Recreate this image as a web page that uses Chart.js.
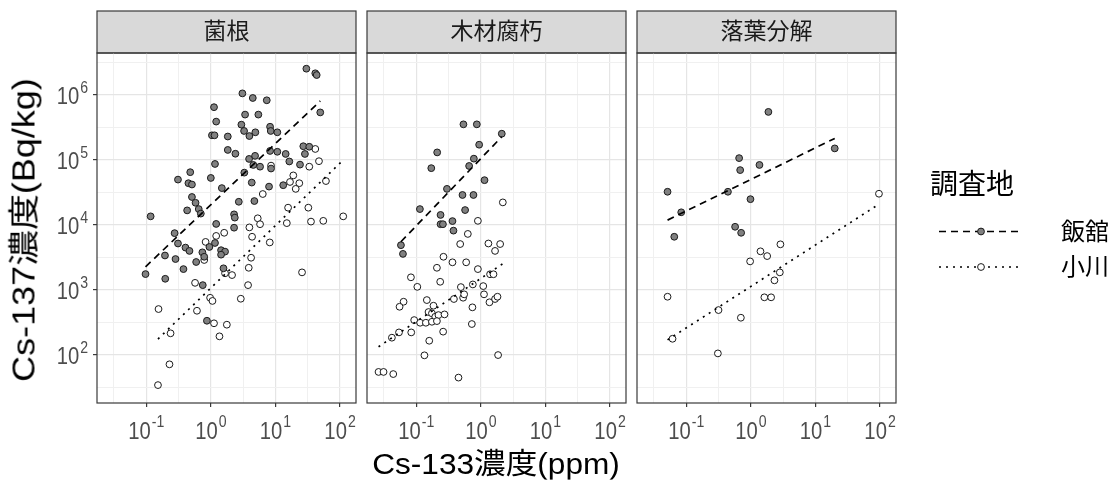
<!DOCTYPE html>
<html lang="ja">
<head>
<meta charset="UTF-8">
<title>Cs-137濃度とCs-133濃度</title>
<script src="https://cdn.jsdelivr.net/npm/chart.js@4"></script>
<style>
  body { margin: 0; background: #fff; font-family: "Liberation Sans", Arial, "Noto Sans CJK JP", sans-serif; }
  #wrap { position: relative; width: 1119px; height: 484px; overflow: hidden; }
  #wrap canvas { position: absolute; left: 0; top: 0; }
  .lbl { position: absolute; white-space: nowrap; line-height: 1; color: #000; }
</style>
</head>
<body>
<div id="wrap">
  <canvas id="c1" width="1119" height="484"></canvas>
  <canvas id="c2" width="1119" height="484"></canvas>
  <canvas id="c3" width="1119" height="484"></canvas>

  <!-- axis titles -->
  <div class="lbl" style="left:24px;top:230px;font-size:31px;transform:translate(-50%,-50%) rotate(-90deg) scale(1.16,1)">Cs-137濃度(Bq/kg)</div>
  <div class="lbl" style="left:496px;top:464px;font-size:29px;transform:translate(-50%,-50%) scale(1.09,1)">Cs-133濃度(ppm)</div>

  <!-- legend -->
  <div class="lbl" style="left:930px;top:185px;font-size:28px;transform:translateY(-50%)">調査地</div>
  <svg style="position:absolute;left:930px;top:215px" width="100" height="70">
    <line x1="9" y1="16.5" x2="93" y2="16.5" stroke="#000" stroke-width="1.6" stroke-dasharray="7 5"/>
    <circle cx="51" cy="16.5" r="3.4" fill="#808080" stroke="#1a1a1a" stroke-width="1"/>
    <line x1="9" y1="52" x2="93" y2="52" stroke="#000" stroke-width="1.6" stroke-dasharray="2 5"/>
    <circle cx="51" cy="52" r="3.4" fill="#fff" stroke="#1a1a1a" stroke-width="1"/>
  </svg>
  <div class="lbl" style="left:1061px;top:231.5px;font-size:24px;transform:translateY(-50%)">飯舘</div>
  <div class="lbl" style="left:1061px;top:267px;font-size:24px;transform:translateY(-50%)">小川</div>
</div>

<script>
    const FONT = '"Liberation Sans", Arial, "Noto Sans CJK JP", sans-serif';

    // axes (log10 scales, shared by the three facets)
    const xMin = 0.0173, xMax = 176.6;
    const yMin = 18.3, yMax = 4.43e6;
    const xTickValues = [0.1, 1, 10, 100];
    const xTickExps = ['-1', '0', '1', '2'];
    const xMinorValues = [0.0316, 0.316, 3.162, 31.62];
    const yTickValues = [1e2, 1e3, 1e4, 1e5, 1e6];
    const yTickExps = ['2', '3', '4', '5', '6'];
    const yMinorValues = [31.6, 316, 3162, 31623, 316228, 3162278];

    // 菌根 - 飯舘
    const mycoIitateX = [1.12, 1.21, 1.04, 1.14, 1.83, 1.83, 1.16, 0.48, 0.31, 1.0, 0.45, 0.51, 1.48, 0.51, 0.58, 0.65, 0.43, 0.70, 0.117, 1.21,
        0.275, 0.31, 0.195, 0.405, 0.467, 0.284, 0.593, 0.74, 0.79, 0.95, 1.16, 1.44, 1.66, 1.44, 0.377, 0.0975, 0.197, 0.75, 1.57, 0.87,
        30.1, 41.4, 43.5, 3.08, 4.46, 7.34, 3.39, 5.44, 49.4, 2.97, 3.27, 3.95, 4.89, 8.26, 8.46, 10.7, 2.40, 3.91, 4.84, 4.55,
        5.78, 8.26, 10.7, 14.4, 16.4, 24.0, 27.0, 33.4, 28.6, 3.30, 4.30, 8.55, 7.96, 13.2, 2.71, 4.72, 2.29, 2.35, 2.29];
    const mycoIitateY = [6.5e5, 3.9e5, 2.4e5, 2.4e5, 2.3e5, 1.43e5, 8.7e4, 6.5e4, 5.0e4, 5.3e4, 4.4e4, 4.2e4, 3.7e4, 2.7e4, 2.2e4, 1.76e4, 1.68e4, 1.5e4, 1.36e4, 1.04e4,
        7500, 5200, 3400, 4500, 4000, 3000, 2700, 3800, 3250, 4600, 5300, 4100, 3900, 3500, 2100, 1760, 1490, 1190, 2160, 337,
        2.54e6, 2.16e6, 2.03e6, 1.06e6, 9.0e5, 8.3e5, 5.0e5, 5.0e5, 5.4e5, 3.5e5, 2.8e5, 2.34e5, 2.67e5, 3.25e5, 2.8e5, 2.67e5, 1.25e5, 1.04e5, 1.16e5, 8.4e4,
        7.9e4, 1.38e5, 1.34e5, 1.24e5, 9.5e4, 8.5e4, 1.63e5, 1.6e5, 1.24e5, 6.4e4, 4.5e4, 7.4e4, 3.9e4, 4.1e4, 2.28e4, 2.34e4, 1.46e4, 1.3e4, 9100];
    // 菌根 - 小川
    const mycoOgawaX = [1.61, 0.83, 1.21, 0.79, 0.57, 0.155, 0.975, 1.06, 0.61, 1.12, 1.77, 0.238, 1.36, 0.229, 0.152,
        41.4, 47.2, 33.4, 8.55, 60.5, 18.9, 16.8, 23.4, 20.6, 6.37, 15.7, 32.3, 112, 55.0, 35.5, 15.0, 5.32, 5.78, 3.95,
        4.35, 8.17, 4.20, 3.86, 3.77, 25.8, 2.91, 1.66, 2.13];
    const mycoOgawaY = [7600, 5500, 6800, 2900, 1290, 510, 760, 680, 480, 308, 293, 216, 194, 72, 34.5,
        1.48e5, 9.6e4, 7.9e4, 8.2e4, 4.75e4, 5.8e4, 4.6e4, 4.4e4, 3.6e4, 3.0e4, 1.85e4, 1.85e4, 1.36e4, 1.16e4, 1.13e4, 1.07e4, 1.27e4, 1.03e4, 9200,
        6600, 5400, 3140, 2200, 1190, 1870, 735, 1810, 1700];
    const mycoFitIitateX = [0.0975, 49.4], mycoFitIitateY = [2280, 8.1e5];
    const mycoFitOgawaX = [0.152, 112], mycoFitOgawaY = [176, 1.0e5];

    // 木材腐朽 - 飯舘
    const woodIitateX = [0.538, 0.867, 2.11, 0.942, 0.211, 0.780, 0.171, 0.659, 1.14, 0.299, 0.520, 0.769, 0.114, 0.571, 0.238, 0.238, 0.259, 0.364, 0.377, 0.058, 0.0623];
    const woodIitateY = [3.54e5, 3.54e5, 2.54e5, 1.72e5, 1.31e5, 1.05e5, 7.5e4, 8.1e4, 4.9e4, 3.6e4, 2.9e4, 2.9e4, 1.76e4, 1.7e4, 1.43e4, 1.03e4, 1.03e4, 1.15e4, 8200, 4900, 3600];
    // 木材腐朽 - 小川
    const woodOgawaX = [2.19, 0.90, 0.629, 0.479, 1.31, 1.99, 1.66, 0.264, 0.364, 0.593, 0.209, 0.90, 1.39, 1.57, 0.0828, 0.235, 0.104, 0.752, 1.09, 0.491,
        0.383, 0.532, 0.552, 1.12, 1.36, 1.66, 1.81, 0.0637, 0.0552, 0.146, 0.185, 0.741, 0.155, 0.175, 0.197, 0.221, 0.274, 0.093, 0.115, 0.141,
        0.175, 0.209, 0.0541, 0.0837, 0.042, 0.261, 0.726, 0.159, 0.134, 1.85, 0.0261, 0.0312, 0.0441, 0.451];
    const woodOgawaY = [2.23e4, 1.16e4, 7300, 5100, 5200, 5100, 4000, 3250, 2670, 2670, 2200, 2100, 1750, 1750, 1570, 1340, 1120, 1220, 1150, 1110,
        728, 762, 859, 859, 648, 728, 789, 661, 553, 701, 574, 542, 459, 438, 388, 412, 422, 345, 314, 314,
        325, 333, 223, 223, 185, 229, 300, 166, 99, 100, 55, 55, 51, 45];
    const woodFitIitateX = [0.058, 2.11], woodFitIitateY = [5530, 2.28e5];
    const woodFitOgawaX = [0.0261, 2.19], woodFitOgawaY = [134, 2540];

    // 落葉分解 - 飯舘
    const litterIitateX = [1.87, 19.9, 0.659, 0.684, 1.36, 0.0514, 0.442, 0.987, 0.0837, 0.571, 0.708, 0.0653];
    const litterIitateY = [5.5e5, 1.51e5, 1.07e5, 7.0e4, 8.4e4, 3.25e4, 3.25e4, 2.5e4, 1.57e4, 9400, 7600, 6600];
    // 落葉分解 - 小川
    const litterOgawaX = [96.2, 2.87, 1.41, 1.79, 0.975, 2.81, 2.32, 0.0514, 1.62, 2.06, 0.316, 0.701, 0.0614, 0.309];
    const litterOgawaY = [3.03e4, 5050, 3940, 3330, 2760, 1870, 1410, 789, 773, 773, 492, 375, 178, 106];
    const litterFitIitateX = [0.0514, 19.9], litterFitIitateY = [1.19e4, 2.15e5];
    const litterFitOgawaX = [0.0514, 96.2], litterFitOgawaY = [171, 2.09e4];

    const pts = (xs, ys) => xs.map((x, i) => ({ x: x, y: ys[i] }));
    const SX = 0.88; // narrower tick glyphs

    function drawPow(ctx, exp, x, y, align, expDy) {
        ctx.font = '23px ' + FONT;
        const w1 = ctx.measureText('10').width * SX;
        ctx.font = '16px ' + FONT;
        const w2 = ctx.measureText(exp).width * SX;
        const total = w1 + 1 + w2;
        const x0 = align === 'center' ? x - total / 2 : x - total;
        ctx.save();
        ctx.translate(x0, y);
        ctx.scale(SX, 1);
        ctx.font = '23px ' + FONT;
        ctx.fillText('10', 0, 0);
        ctx.restore();
        ctx.save();
        ctx.translate(x0 + w1 + 1, y - expDy);
        ctx.scale(SX, 1);
        ctx.font = '16px ' + FONT;
        ctx.fillText(exp, 0, 0);
        ctx.restore();
    }

    const facetPlugin = {
        id: 'facet',
        beforeDraw(chart, args, opts) {
            const { ctx, chartArea: a } = chart;
            ctx.save();
            ctx.fillStyle = '#d9d9d9';
            ctx.fillRect(a.left, 11, a.right - a.left, a.top - 11);
            ctx.strokeStyle = '#3a3a3a';
            ctx.lineWidth = 1.2;
            ctx.strokeRect(a.left, 11, a.right - a.left, a.top - 11);
            ctx.fillStyle = '#1a1a1a';
            ctx.font = '23px ' + FONT;
            ctx.textAlign = 'center';
            ctx.textBaseline = 'middle';
            ctx.fillText(opts.title, (a.left + a.right) / 2, 33);
            ctx.restore();
        },
        afterDraw(chart, args, opts) {
            const { ctx, chartArea: a } = chart;
            ctx.save();
            ctx.strokeStyle = '#3a3a3a';
            ctx.lineWidth = 1.2;
            ctx.strokeRect(a.left, a.top, a.right - a.left, a.bottom - a.top);
            ctx.fillStyle = '#4d4d4d';
            ctx.textAlign = 'left';
            ctx.textBaseline = 'alphabetic';
            const xs = chart.scales.x;
            xTickValues.forEach((v, i) => {
                drawPow(ctx, xTickExps[i], xs.getPixelForValue(v), 438.5, 'center', 11.5);
            });
            if (opts.yLabels) {
                const ys = chart.scales.y;
                yTickValues.forEach((v, i) => {
                    const py = ys.getPixelForValue(v);
                    drawPow(ctx, yTickExps[i], 88, py + 8.5, 'right', 10.5);
                });
            }
            ctx.restore();
        }
    };

    function gridOpts(withTicks) {
        return {
            color: c => c.tick && c.tick.lab ? '#e5e5e5' : '#f0f0f0',
            lineWidth: c => c.tick && c.tick.lab ? 1.2 : 1,
            drawTicks: withTicks,
            tickLength: 4,
            tickWidth: 1.2,
            tickColor: c => c.tick && c.tick.lab ? '#3a3a3a' : 'rgba(0,0,0,0)'
        };
    }

    function makeTicks(major, minor) {
        return major.map(v => ({ value: v, lab: true })).concat(minor.map(v => ({ value: v, lab: false })));
    }

    function facet(id, title, padL, padR, yLabels, d) {
        new Chart(document.getElementById(id), {
            type: 'scatter',
            data: {
                datasets: [
                    { data: pts(d.fitIX, d.fitIY), showLine: true, borderColor: '#000', borderWidth: 1.7, borderDash: [7, 5], pointRadius: 0, fill: false },
                    { data: pts(d.fitOX, d.fitOY), showLine: true, borderColor: '#000', borderWidth: 1.7, borderDash: [2, 5], pointRadius: 0, fill: false },
                    { data: pts(d.iX, d.iY), pointRadius: 3.4, borderWidth: 1, backgroundColor: '#808080', borderColor: '#1a1a1a' },
                    { data: pts(d.oX, d.oY), pointRadius: 3.4, borderWidth: 1, backgroundColor: '#ffffff', borderColor: '#1a1a1a' }
                ]
            },
            options: {
                responsive: false,
                animation: false,
                events: [],
                layout: { padding: { left: padL, right: padR, top: 53, bottom: 0 } },
                scales: {
                    x: {
                        type: 'logarithmic', min: xMin, max: xMax, bounds: 'data',
                        afterBuildTicks: s => { s.ticks = makeTicks(xTickValues, xMinorValues); },
                        afterFit: s => { s.height = 81; },
                        ticks: { display: false },
                        grid: gridOpts(true),
                        border: { display: false }
                    },
                    y: {
                        type: 'logarithmic', min: yMin, max: yMax, bounds: 'data',
                        afterBuildTicks: s => { s.ticks = makeTicks(yTickValues, yMinorValues); },
                        afterFit: s => { s.width = yLabels ? 97 : 0; },
                        ticks: { display: false },
                        grid: gridOpts(yLabels),
                        border: { display: false }
                    }
                },
                plugins: {
                    legend: { display: false },
                    tooltip: { enabled: false },
                    facet: { title: title, yLabels: yLabels }
                }
            },
            plugins: [facetPlugin]
        });
    }

    facet('c1', '菌根', 0, 1119 - 356, true, {
        iX: mycoIitateX, iY: mycoIitateY, oX: mycoOgawaX, oY: mycoOgawaY,
        fitIX: mycoFitIitateX, fitIY: mycoFitIitateY, fitOX: mycoFitOgawaX, fitOY: mycoFitOgawaY
    });
    facet('c2', '木材腐朽', 367, 1119 - 626, false, {
        iX: woodIitateX, iY: woodIitateY, oX: woodOgawaX, oY: woodOgawaY,
        fitIX: woodFitIitateX, fitIY: woodFitIitateY, fitOX: woodFitOgawaX, fitOY: woodFitOgawaY
    });
    facet('c3', '落葉分解', 637, 1119 - 896, false, {
        iX: litterIitateX, iY: litterIitateY, oX: litterOgawaX, oY: litterOgawaY,
        fitIX: litterFitIitateX, fitIY: litterFitIitateY, fitOX: litterFitOgawaX, fitOY: litterFitOgawaY
    });
</script>
</body>
</html>
